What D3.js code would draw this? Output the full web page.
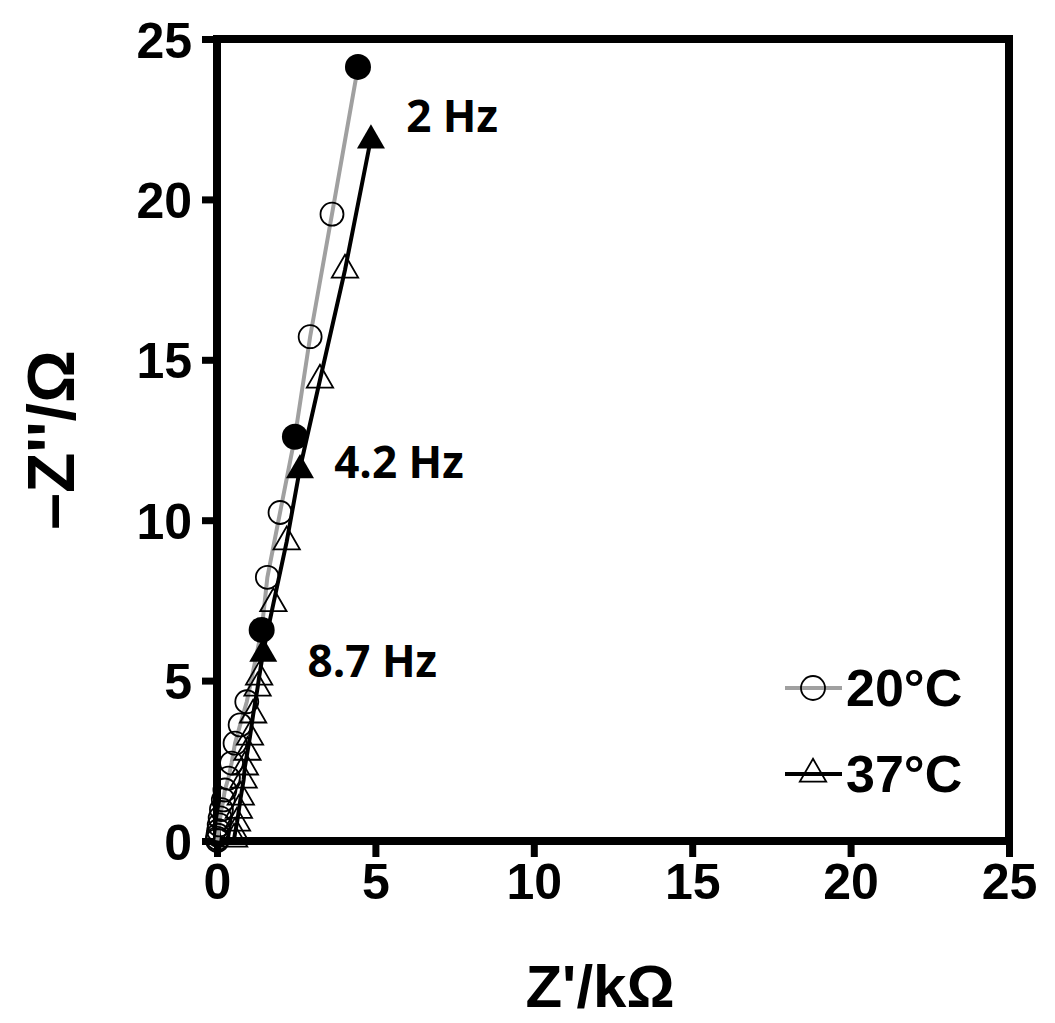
<!DOCTYPE html>
<html lang="en">
<head>
    <meta charset="UTF-8">
    <script src="https://d3js.org/d3.v7.min.js" charset="utf-8"></script>
    <title>Nyquist plot</title>
    <style>
        body { margin: 0; background: white; }
        svg text { font-family: "Liberation Sans", Arial, sans-serif; font-weight: bold; }
        .hz { font-family: "Open Sans", sans-serif; font-weight: 700; }
    </style>
</head>
<body>
    <div id="chart"></div>

    <script>
        const svgWidth = 1055;
        const svgHeight = 1023;

        // 20°C series, Z' (kΩ) and -Z'' , from low to high frequency
        const z20Real = [4.45, 3.63, 2.94, 2.46, 1.99, 1.59, 1.41, 0.94, 0.73, 0.57, 0.46, 0.36, 0.25, 0.2, 0.14, 0.1, 0.07, 0.05, 0.03, 0.02, 0.01];
        const z20Imag = [24.13, 19.54, 15.72, 12.6, 10.24, 8.22, 6.58, 4.34, 3.62, 3.05, 2.43, 1.96, 1.59, 1.28, 0.98, 0.72, 0.5, 0.32, 0.18, 0.08, 0.02];

        // 37°C series
        const z37Real = [4.86, 4.04, 3.25, 2.62, 2.2, 1.78, 1.46, 1.33, 1.28, 1.14, 1.04, 0.96, 0.88, 0.84, 0.75, 0.69, 0.63, 0.57, 0.54];
        const z37Imag = [21.9, 17.8, 14.37, 11.62, 9.33, 7.4, 5.9, 5.11, 4.77, 3.93, 3.24, 2.77, 2.31, 1.9, 1.37, 0.96, 0.56, 0.25, 0.06];

        // points measured at the labelled frequencies (filled markers)
        const markedIdx = [0, 3, 6];
        const freqLabels = ["2 Hz", "4.2 Hz", "8.7 Hz"];

        const xTicks = [0, 5, 10, 15, 20, 25];
        const yTicks = [0, 5, 10, 15, 20, 25];
        const legendNames = ["20°C", "37°C"];

        const margin = {left: 217, right: 46, top: 39, bottom: 182};

        const svg = d3.select("#chart").append("svg")
            .attr("width", svgWidth)
            .attr("height", svgHeight);

        const x = d3.scaleLinear().domain([0, 25]).range([margin.left, svgWidth - margin.right]);
        const y = d3.scaleLinear().domain([0, 25]).range([svgHeight - margin.bottom, margin.top]);

        const s20 = z20Real.map((v, i) => ({x: v, y: z20Imag[i], i}));
        const s37 = z37Real.map((v, i) => ({x: v, y: z37Imag[i], i}));

        // axes
        const xAxis = svg.append("g")
            .attr("transform", `translate(0,${y(0)})`)
            .call(d3.axisBottom(x).tickValues(xTicks).tickSize(16).tickFormat(d3.format("d")));
        xAxis.selectAll("text").attr("y", 58).attr("dy", null).style("font-size", "50px").attr("fill", "#000");

        const yAxis = svg.append("g")
            .attr("transform", `translate(${x(0)},0)`)
            .call(d3.axisLeft(y).tickValues(yTicks).tickSize(15).tickPadding(10).tickFormat(d3.format("d")));
        yAxis.selectAll("text").attr("dy", "0.36em").style("font-size", "50px").attr("fill", "#000");

        svg.selectAll(".domain").remove();
        svg.selectAll(".tick line").attr("stroke", "#000").attr("stroke-width", 7);

        // frame
        svg.append("rect")
            .attr("x", x(0)).attr("y", y(25))
            .attr("width", x(25) - x(0)).attr("height", y(0) - y(25))
            .attr("fill", "none").attr("stroke", "#000").attr("stroke-width", 8);

        // lines
        const line = d3.line().x(d => x(d.x)).y(d => y(d.y));

        svg.append("path").datum(s20)
            .attr("d", line).attr("fill", "none")
            .attr("stroke", "#a0a0a0").attr("stroke-width", 4);

        svg.selectAll(".c20").data(s20.filter(d => !markedIdx.includes(d.i)))
            .enter().append("circle")
            .attr("cx", d => x(d.x)).attr("cy", d => y(d.y)).attr("r", 11.5)
            .attr("fill", "none").attr("stroke", "#000").attr("stroke-width", 1.8);

        svg.append("path").datum(s37)
            .attr("d", line).attr("fill", "none")
            .attr("stroke", "#000").attr("stroke-width", 4);

        const tri = d3.symbol().type(d3.symbolTriangle).size(300);

        svg.selectAll(".t37").data(s37.filter(d => !markedIdx.includes(d.i)))
            .enter().append("path")
            .attr("d", tri)
            .attr("transform", d => `translate(${x(d.x)},${y(d.y)})`)
            .attr("fill", "none").attr("stroke", "#000").attr("stroke-width", 1.8);

        // filled markers
        svg.selectAll(".f20").data(s20.filter(d => markedIdx.includes(d.i)))
            .enter().append("circle")
            .attr("cx", d => x(d.x)).attr("cy", d => y(d.y)).attr("r", 13)
            .attr("fill", "#000");

        svg.selectAll(".f37").data(s37.filter(d => markedIdx.includes(d.i)))
            .enter().append("path")
            .attr("d", d3.symbol().type(d3.symbolTriangle).size(340))
            .attr("transform", d => `translate(${x(d.x)},${y(d.y) + 2})`)
            .attr("fill", "#000");

        // frequency labels
        const labelPos = [[5.97, 22.1], [3.7, 11.3], [2.86, 5.1]];
        svg.selectAll(".hz").data(freqLabels)
            .enter().append("text")
            .attr("class", "hz")
            .attr("x", (d, i) => x(labelPos[i][0]))
            .attr("y", (d, i) => y(labelPos[i][1]))
            .style("font-size", "44px")
            .text(d => d);

        // legend
        const legend = svg.append("g");
        const legY = [688, 774];
        legendNames.forEach((name, i) => {
            legend.append("line")
                .attr("x1", 785).attr("x2", 842)
                .attr("y1", legY[i]).attr("y2", legY[i])
                .attr("stroke", i === 0 ? "#a0a0a0" : "#000").attr("stroke-width", 4);
            if (i === 0) {
                legend.append("circle").attr("cx", 813).attr("cy", legY[i]).attr("r", 12)
                    .attr("fill", "none").attr("stroke", "#000").attr("stroke-width", 1.8);
            } else {
                legend.append("path").attr("d", tri)
                    .attr("transform", `translate(813,${legY[i]})`)
                    .attr("fill", "none").attr("stroke", "#000").attr("stroke-width", 1.8);
            }
            legend.append("text")
                .attr("x", 846).attr("y", legY[i] + 18)
                .style("font-size", "52px")
                .text(name);
        });

        // axis titles
        svg.append("text")
            .attr("x", 600).attr("y", 1007)
            .attr("text-anchor", "middle")
            .style("font-size", "60px")
            .text("Z'/kΩ");

        svg.append("text")
            .attr("transform", "translate(74,440) rotate(-90)")
            .attr("text-anchor", "middle")
            .style("font-size", "66px")
            .text("–Z''/Ω");
    </script>
</body>
</html>
